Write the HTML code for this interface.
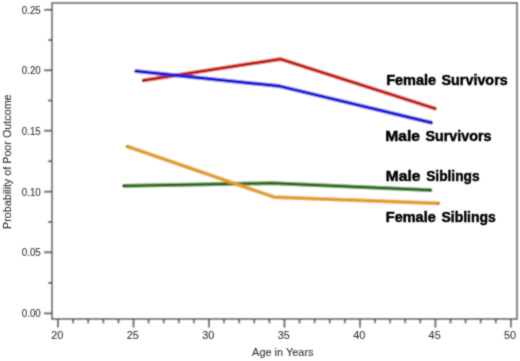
<!DOCTYPE html>
<html><head><meta charset="utf-8"><style>
html,body{margin:0;padding:0;background:#fff;width:520px;height:361px;overflow:hidden}
svg{display:block}
.t{font-family:"Liberation Sans",sans-serif;font-size:11.8px;fill:#333;stroke:#333;stroke-width:0.1px}
.b{font-family:"Liberation Sans",sans-serif;font-size:15px;font-weight:bold;fill:#000;stroke:#000;stroke-width:0.5px}
</style></head><body>
<svg width="520" height="361" viewBox="0 0 520 361">
<defs>
<filter id="f1" x="0" y="0" width="520" height="361" filterUnits="userSpaceOnUse"><feConvolveMatrix order="3" kernelMatrix="1 2 1 2 4 2 1 2 1" edgeMode="duplicate" preserveAlpha="true"/></filter>
<filter id="f2" x="0" y="0" width="520" height="361" filterUnits="userSpaceOnUse"><feConvolveMatrix order="3" kernelMatrix="1 2 1 2 12 2 1 2 1" edgeMode="none" preserveAlpha="false"/></filter>
</defs>
<g filter="url(#f1)"><rect x="0" y="0" width="520" height="361" fill="#fff"/>
<rect x="52" y="3" width="465" height="316" fill="none" stroke="#707070" stroke-width="2.0"/>
<line x1="44" y1="9.80" x2="52" y2="9.80" stroke="#4a4a4a" stroke-width="1.8"/>
<line x1="44" y1="70.30" x2="52" y2="70.30" stroke="#4a4a4a" stroke-width="1.8"/>
<line x1="44" y1="130.70" x2="52" y2="130.70" stroke="#4a4a4a" stroke-width="1.8"/>
<line x1="44" y1="191.70" x2="52" y2="191.70" stroke="#4a4a4a" stroke-width="1.8"/>
<line x1="44" y1="252.30" x2="52" y2="252.30" stroke="#4a4a4a" stroke-width="1.8"/>
<line x1="44" y1="313.40" x2="52" y2="313.40" stroke="#4a4a4a" stroke-width="1.8"/>
<line x1="48" y1="40.05" x2="52" y2="40.05" stroke="#4a4a4a" stroke-width="1.8"/>
<line x1="48" y1="100.50" x2="52" y2="100.50" stroke="#4a4a4a" stroke-width="1.8"/>
<line x1="48" y1="161.20" x2="52" y2="161.20" stroke="#4a4a4a" stroke-width="1.8"/>
<line x1="48" y1="222.00" x2="52" y2="222.00" stroke="#4a4a4a" stroke-width="1.8"/>
<line x1="48" y1="282.85" x2="52" y2="282.85" stroke="#4a4a4a" stroke-width="1.8"/>
<line x1="58.05" y1="319" x2="58.05" y2="327.6" stroke="#4a4a4a" stroke-width="1.8"/>
<line x1="73.14" y1="319" x2="73.14" y2="323.3" stroke="#4a4a4a" stroke-width="1.8"/>
<line x1="88.24" y1="319" x2="88.24" y2="323.3" stroke="#4a4a4a" stroke-width="1.8"/>
<line x1="103.33" y1="319" x2="103.33" y2="323.3" stroke="#4a4a4a" stroke-width="1.8"/>
<line x1="118.43" y1="319" x2="118.43" y2="323.3" stroke="#4a4a4a" stroke-width="1.8"/>
<line x1="133.52" y1="319" x2="133.52" y2="327.6" stroke="#4a4a4a" stroke-width="1.8"/>
<line x1="148.61" y1="319" x2="148.61" y2="323.3" stroke="#4a4a4a" stroke-width="1.8"/>
<line x1="163.71" y1="319" x2="163.71" y2="323.3" stroke="#4a4a4a" stroke-width="1.8"/>
<line x1="178.80" y1="319" x2="178.80" y2="323.3" stroke="#4a4a4a" stroke-width="1.8"/>
<line x1="193.90" y1="319" x2="193.90" y2="323.3" stroke="#4a4a4a" stroke-width="1.8"/>
<line x1="208.99" y1="319" x2="208.99" y2="327.6" stroke="#4a4a4a" stroke-width="1.8"/>
<line x1="224.08" y1="319" x2="224.08" y2="323.3" stroke="#4a4a4a" stroke-width="1.8"/>
<line x1="239.18" y1="319" x2="239.18" y2="323.3" stroke="#4a4a4a" stroke-width="1.8"/>
<line x1="254.27" y1="319" x2="254.27" y2="323.3" stroke="#4a4a4a" stroke-width="1.8"/>
<line x1="269.37" y1="319" x2="269.37" y2="323.3" stroke="#4a4a4a" stroke-width="1.8"/>
<line x1="284.46" y1="319" x2="284.46" y2="327.6" stroke="#4a4a4a" stroke-width="1.8"/>
<line x1="299.55" y1="319" x2="299.55" y2="323.3" stroke="#4a4a4a" stroke-width="1.8"/>
<line x1="314.65" y1="319" x2="314.65" y2="323.3" stroke="#4a4a4a" stroke-width="1.8"/>
<line x1="329.74" y1="319" x2="329.74" y2="323.3" stroke="#4a4a4a" stroke-width="1.8"/>
<line x1="344.84" y1="319" x2="344.84" y2="323.3" stroke="#4a4a4a" stroke-width="1.8"/>
<line x1="359.93" y1="319" x2="359.93" y2="327.6" stroke="#4a4a4a" stroke-width="1.8"/>
<line x1="375.02" y1="319" x2="375.02" y2="323.3" stroke="#4a4a4a" stroke-width="1.8"/>
<line x1="390.12" y1="319" x2="390.12" y2="323.3" stroke="#4a4a4a" stroke-width="1.8"/>
<line x1="405.21" y1="319" x2="405.21" y2="323.3" stroke="#4a4a4a" stroke-width="1.8"/>
<line x1="420.31" y1="319" x2="420.31" y2="323.3" stroke="#4a4a4a" stroke-width="1.8"/>
<line x1="435.40" y1="319" x2="435.40" y2="327.6" stroke="#4a4a4a" stroke-width="1.8"/>
<line x1="450.49" y1="319" x2="450.49" y2="323.3" stroke="#4a4a4a" stroke-width="1.8"/>
<line x1="465.59" y1="319" x2="465.59" y2="323.3" stroke="#4a4a4a" stroke-width="1.8"/>
<line x1="480.68" y1="319" x2="480.68" y2="323.3" stroke="#4a4a4a" stroke-width="1.8"/>
<line x1="495.78" y1="319" x2="495.78" y2="323.3" stroke="#4a4a4a" stroke-width="1.8"/>
<line x1="510.87" y1="319" x2="510.87" y2="327.6" stroke="#4a4a4a" stroke-width="1.8"/>
<polyline points="143.6,80.4 280.25,59.1 434.9,108.5" fill="none" stroke="#c62018" stroke-width="3.7" stroke-linejoin="round" stroke-linecap="round"/>
<circle cx="143.6" cy="80.4" r="1.5" fill="#8e1020" opacity="0.55"/>
<circle cx="434.9" cy="108.5" r="1.5" fill="#8e1020" opacity="0.55"/>
<polyline points="136.1,71.2 279.9,86.2 431.2,122.6" fill="none" stroke="#2222dc" stroke-width="3.7" stroke-linejoin="round" stroke-linecap="round"/>
<circle cx="136.1" cy="71.2" r="1.5" fill="#141490" opacity="0.55"/>
<circle cx="431.2" cy="122.6" r="1.5" fill="#141490" opacity="0.55"/>
<polyline points="124.0,185.8 271.6,183.2 430.5,190.2" fill="none" stroke="#36721c" stroke-width="3.7" stroke-linejoin="round" stroke-linecap="round"/>
<circle cx="124.0" cy="185.8" r="1.5" fill="#1e4410" opacity="0.55"/>
<circle cx="430.5" cy="190.2" r="1.5" fill="#1e4410" opacity="0.55"/>
<polyline points="127.4,146.6 274.0,197.1 438.4,203.3" fill="none" stroke="#e29e26" stroke-width="3.7" stroke-linejoin="round" stroke-linecap="round"/>
<circle cx="127.4" cy="146.6" r="1.5" fill="#8a7a20" opacity="0.55"/>
<circle cx="438.4" cy="203.3" r="1.5" fill="#8a7a20" opacity="0.55"/>
</g>
<g filter="url(#f2)">
<text x="21.8" y="13.70" class="t" textLength="18.9" lengthAdjust="spacingAndGlyphs">0.25</text>
<text x="21.8" y="74.20" class="t" textLength="18.9" lengthAdjust="spacingAndGlyphs">0.20</text>
<text x="21.8" y="134.60" class="t" textLength="18.9" lengthAdjust="spacingAndGlyphs">0.15</text>
<text x="21.8" y="195.60" class="t" textLength="18.9" lengthAdjust="spacingAndGlyphs">0.10</text>
<text x="21.8" y="256.20" class="t" textLength="18.9" lengthAdjust="spacingAndGlyphs">0.05</text>
<text x="21.8" y="317.30" class="t" textLength="18.9" lengthAdjust="spacingAndGlyphs">0.00</text>
<text x="51.25" y="339" class="t" textLength="12.1" lengthAdjust="spacingAndGlyphs">20</text>
<text x="126.72" y="339" class="t" textLength="12.1" lengthAdjust="spacingAndGlyphs">25</text>
<text x="202.19" y="339" class="t" textLength="12.1" lengthAdjust="spacingAndGlyphs">30</text>
<text x="277.66" y="339" class="t" textLength="12.1" lengthAdjust="spacingAndGlyphs">35</text>
<text x="353.13" y="339" class="t" textLength="12.1" lengthAdjust="spacingAndGlyphs">40</text>
<text x="428.60" y="339" class="t" textLength="12.1" lengthAdjust="spacingAndGlyphs">45</text>
<text x="504.07" y="339" class="t" textLength="12.1" lengthAdjust="spacingAndGlyphs">50</text>
<text x="252.1" y="356.1" class="t" textLength="61.4" lengthAdjust="spacingAndGlyphs">Age in Years</text>
<text transform="translate(10.6,229) rotate(-90)" x="0" y="0" class="t" textLength="134.6" lengthAdjust="spacingAndGlyphs">Probability of Poor Outcome</text>
<text x="386.2" y="85.3" class="b" textLength="50.0" lengthAdjust="spacingAndGlyphs">Female</text>
<text x="441.5" y="85.3" class="b" textLength="66.2" lengthAdjust="spacingAndGlyphs">Survivors</text>
<text x="385.3" y="140.9" class="b" textLength="34.7" lengthAdjust="spacingAndGlyphs">Male</text>
<text x="425.4" y="140.9" class="b" textLength="66.1" lengthAdjust="spacingAndGlyphs">Survivors</text>
<text x="385.8" y="180.9" class="b" textLength="34.6" lengthAdjust="spacingAndGlyphs">Male</text>
<text x="426.2" y="180.9" class="b" textLength="53.4" lengthAdjust="spacingAndGlyphs">Siblings</text>
<text x="385.8" y="222.3" class="b" textLength="50.0" lengthAdjust="spacingAndGlyphs">Female</text>
<text x="441.5" y="222.3" class="b" textLength="54.3" lengthAdjust="spacingAndGlyphs">Siblings</text>
</g>
</svg>
</body></html>
